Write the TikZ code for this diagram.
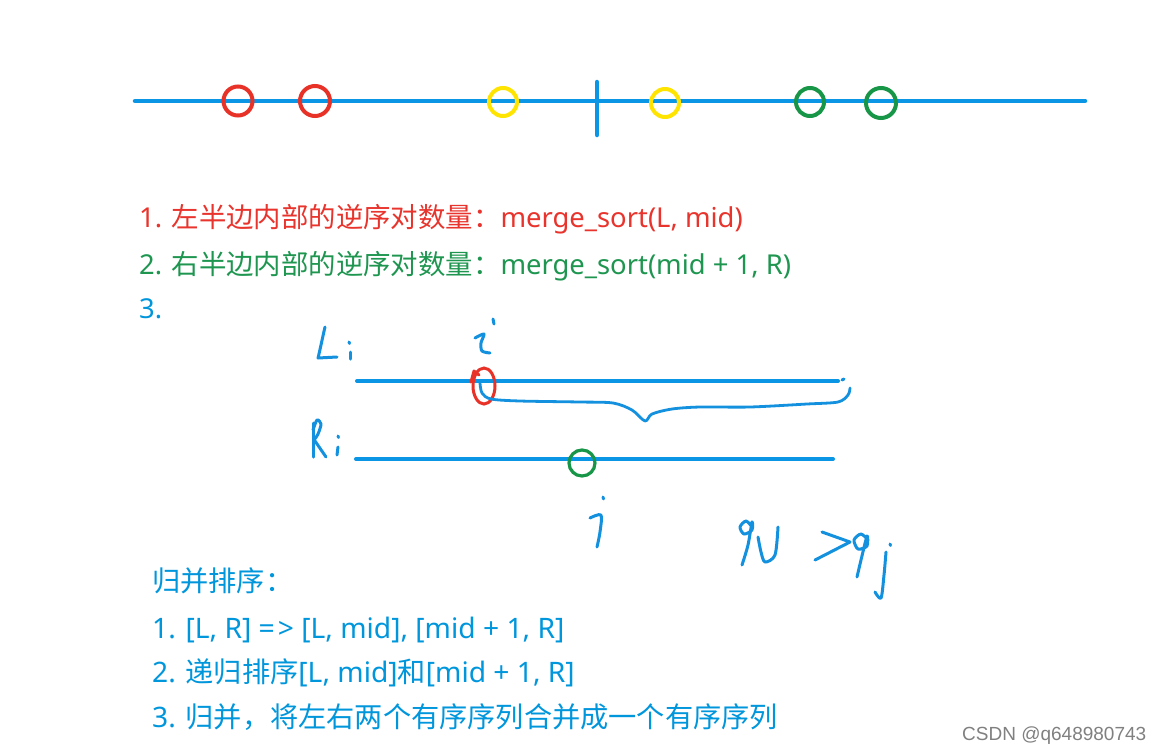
\documentclass[tikz,border=0pt]{standalone}
\usepackage{fontspec}
\setmainfont{Noto Sans}
\newfontfamily\cjkfont{Noto Sans CJK SC}
\newfontfamily\wmfont{Liberation Sans}
\newcommand\zhtxt[1]{{\cjkfont #1}}
\definecolor{lineblue}{RGB}{10,150,228}
\definecolor{txtred}{RGB}{232,52,44}
\definecolor{txtgreen}{RGB}{30,150,80}
\definecolor{txtblue}{RGB}{0,150,220}
\definecolor{cred}{RGB}{232,50,40}
\definecolor{cyellow}{RGB}{255,228,0}
\definecolor{cgreen}{RGB}{24,150,72}
\definecolor{penblue}{RGB}{20,145,222}
\tikzset{
  axis/.style={draw=lineblue,line width=4.5pt,line cap=round},
  ring/.style={line width=4pt},
  pen/.style={draw=penblue,line width=3pt,line cap=round,line join=round},
  txt/.style={anchor=base west,inner sep=0pt,font=\fontsize{27.4}{32}\selectfont},
  txtb/.style={anchor=base west,inner sep=0pt,font=\fontsize{28.2}{33}\selectfont},
}
\begin{document}
\begin{tikzpicture}[x=1pt,y=-1pt]
\useasboundingbox[fill=white] (0,0) rectangle (1166,753);
% top axis
\coordinate (a0) at (135,101);
\coordinate (a1) at (1085,101);
\draw[axis] (a0) -- (a1);
\coordinate (m0) at (597,82);
\coordinate (m1) at (597,135);
\draw[axis] (m0) -- (m1);
\draw[ring,cred] (238,101) circle (14.5);
\draw[ring,cred] (315,101) circle (15);
\draw[ring,cyellow] (503,102) circle (14);
\draw[ring,cyellow] (665,103) circle (14);
\draw[ring,cgreen] (810,102) circle (14);
\draw[ring,cgreen] (881,103) circle (15);
% upper text
\node[txt,text=txtred] (t1) at (139,227) {1. \zhtxt{左半边内部的逆序对数量：}merge\_sort(L, mid)};
\node[txt,text=txtgreen] (t2) at (139,274) {2. \zhtxt{右半边内部的逆序对数量：}merge\_sort(mid + 1, R)};
\node[txt,text=txtblue] (t3) at (139,318) {3.};
% handwritten L and R
\coordinate (l0) at (357,381);
\coordinate (l1) at (838,381);
\draw[axis,line width=4pt] (l0) -- (l1);
\coordinate (r0) at (356,459);
\coordinate (r1) at (833,459);
\draw[axis,line width=4pt] (r0) -- (r1);
% L:
\draw[pen] (325,327) .. controls (322,340) and (320,350) .. (318,358) -- (337,357);
\draw[pen] (349,342) -- (349.5,343.5);
\draw[pen] (350,352) -- (350,359);
% R:
\draw[pen] (313,423) -- (313,457);
\draw[pen] plot[smooth] coordinates {(313,430) (317,420) (321,424) (318,434) (314,440)};
\draw[pen] (315,441) -- (326,457);
\draw[pen] (338,436) -- (338.5,437.5);
\draw[pen] (338,447) -- (337,455);
% i
\draw[pen] (493,319) -- (494,324);
\draw[pen] plot[smooth] coordinates {(475,338) (484,334) (481,343) (482,351) (490,353)};
% red circle on L
\draw[cred,line width=3pt] (484,386) ellipse (11 and 18);
\draw[cred,line width=3pt,line cap=round,line join=round] (471,382) -- (474,371) -- (479,375);
% brace
\draw[pen,line width=2.8pt] plot[smooth] coordinates {(480,383) (482,393) (491,399) (520,401) (580,402) (613,403) (632,410) (645,421) (652,414) (672,409) (700,407) (750,407) (807,404) (838,402) (848,395) (850,388)};
\draw[pen] (842,380) -- (844,379);
% green circle on R
\draw[cgreen,line width=3.2pt] (582,463) circle (13);
% j
\draw[pen] (603,497) -- (603.5,499);
\draw[pen] plot[smooth] coordinates {(590,518) (601,515) (600,532) (597,547)};
% qi > qj
\draw[pen] plot[smooth] coordinates {(752,527) (746,521) (740,527) (744,534) (752,530) (752,522) (748,545) (742,565)};
\draw[pen] plot[smooth] coordinates {(758,537) (761,552) (765,562) (775,555) (778,527)};
\draw[pen] (822,532) -- (850,542) -- (815,560);
\draw[pen] plot[smooth] coordinates {(868,540) (861,534) (854,540) (858,549) (867,546) (867,536) (861,560) (857,577)};
\draw[pen] (890,544) -- (890.5,545.5);
\draw[pen] plot[smooth] coordinates {(886,552) (884,575) (881,598) (875,592)};
% lower text
\node[txtb,text=txtblue] (b0) at (152,591) {\zhtxt{归并排序：}};
\node[txtb,text=txtblue] (b1) at (152,638) {1. [L, R] =\hspace{3pt}> [L, mid], [mid + 1, R]};
\node[txtb,text=txtblue] (b2) at (152,682) {2. \zhtxt{递归排序}[L, mid]\zhtxt{和}[mid + 1, R]};
\node[txtb,text=txtblue] (b3) at (152,727) {3. \zhtxt{归并，将左右两个有序序列合并成一个有序序列}};
% watermark
\node[anchor=base west,inner sep=0pt,text={rgb,255:red,128;green,128;blue,128},font=\wmfont\fontsize{19}{22}\selectfont] (wm) at (962,740) {CSDN @q648980743};
\end{tikzpicture}
\end{document}
